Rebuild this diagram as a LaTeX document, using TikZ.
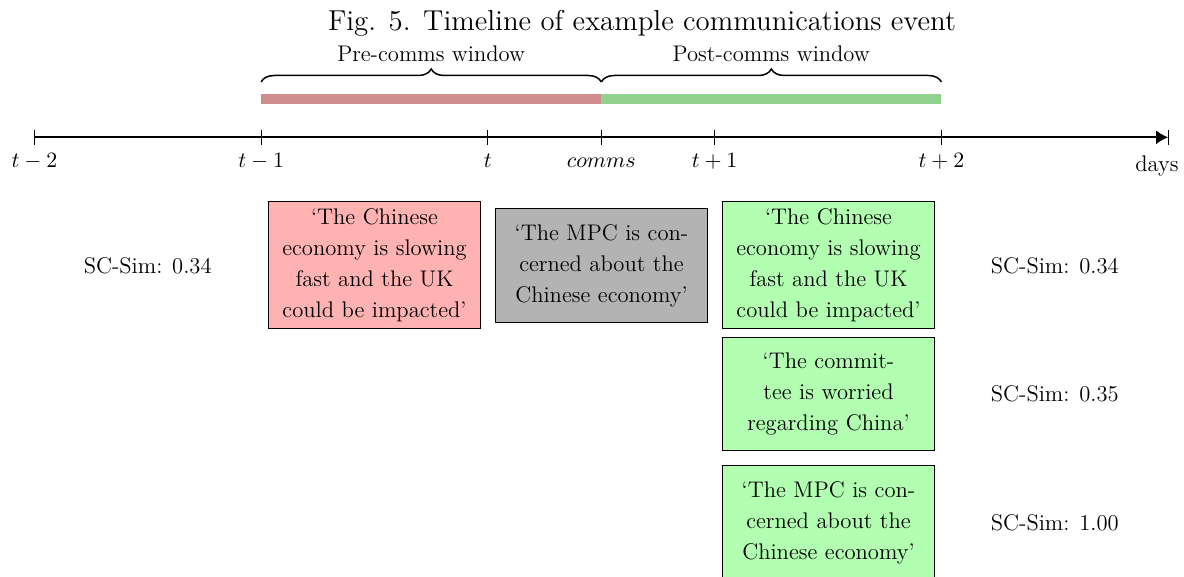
\documentclass[tikz,border=0pt]{standalone}
\usetikzlibrary{decorations.pathreplacing,arrows.meta}
\definecolor{barred}{RGB}{209,141,141}
\definecolor{bargreen}{RGB}{145,210,145}
\definecolor{boxred}{RGB}{255,178,178}
\definecolor{boxgreen}{RGB}{178,255,178}
\definecolor{boxgray}{RGB}{179,179,179}
\begin{document}
\begin{tikzpicture}[x=0.5pt,y=-0.5pt,
  txt/.style={font=\fontsize{11.3}{15.5}\selectfont},
  quotebox/.style={txt,draw=black,line width=0.45pt,text width=99pt,inner sep=3.5pt,
     align=center,minimum height=56.8pt},
  redbox/.style={quotebox,fill=boxred},
  graybox/.style={quotebox,fill=boxgray},
  greenbox/.style={quotebox,fill=boxgreen},
  ticklabel/.style={txt,anchor=base,inner sep=0pt},
  tickmark/.style={line width=0.5pt},
  axisline/.style={line width=0.9pt,-{Latex[length=6pt,width=7pt]}},
  windowbar/.style={line width=5.15pt},
  bracepath/.style={decorate,decoration={brace,amplitude=6.5pt},line width=0.75pt},
  simlabel/.style={txt}]
\useasboundingbox (0,0) rectangle (1184,577);

% title
\node[font=\fontsize{14.4}{17}\selectfont,anchor=base,inner sep=0pt] (title) at (642,30.5)
  {Fig. 5. Timeline of example communications event};

% tick positions
\coordinate (tm2) at (34.4,137.3);
\coordinate (tm1) at (261.15,137.3);
\coordinate (t0)  at (487.9,137.3);
\coordinate (tc)  at (601.3,137.3);
\coordinate (tp1) at (714.65,137.3);
\coordinate (tp2) at (941.4,137.3);
\coordinate (tp3) at (1168.15,137.3);

% axis
\draw[axisline] (tm2) -- (tp3);
\foreach \c in {tm2,tm1,t0,tc,tp1,tp2,tp3}
  \draw[tickmark] ([yshift=3.75pt]\c) -- ([yshift=-3.75pt]\c);

% tick labels
\node[ticklabel] (ltm2) at (34.4,168) {$t-2$};
\node[ticklabel] (ltm1) at (261.15,168) {$t-1$};
\node[ticklabel] (lt0)  at (487.9,168) {$t$};
\node[ticklabel] (ltc)  at (601.3,168) {$comms$};
\node[ticklabel] (ltp1) at (714.65,168) {$t+1$};
\node[ticklabel] (ltp2) at (941.4,168) {$t+2$};
\node[ticklabel] (ldays) at (1157,171.5) {days};

% window bars
\coordinate (bs) at (261.15,99.2);
\coordinate (bm) at (601.3,99.2);
\coordinate (be) at (941.4,99.2);
\draw[windowbar,barred] (bs) -- (bm);
\draw[windowbar,bargreen] (bm) -- (be);

% braces
\coordinate (brs) at (261.15,82);
\coordinate (brm) at (601.3,82);
\coordinate (bre) at (941.4,82);
\draw[bracepath] (brs) -- (brm);
\draw[bracepath] (brm) -- (bre);
\node[ticklabel] (pre) at (431.2,62) {Pre-comms window};
\node[ticklabel] (post) at (771.3,62) {Post-comms window};

% boxes
\node[redbox] (pbox) at (374.5,265)
  {`The Chinese\\economy is slowing\\fast and the UK\\could be impacted'};
\node[graybox] (cbox) at (601.5,265.5)
  {`The MPC is con-\\cerned about the\\Chinese economy'};
\node[greenbox] (g1) at (828.5,265.3)
  {`The Chinese\\economy is slowing\\fast and the UK\\could be impacted'};
\node[greenbox] (g2) at (828.5,394)
  {`The commit-\\tee is worried\\regarding China'};
\node[greenbox] (g3) at (828.5,522.6)
  {`The MPC is con-\\cerned about the\\Chinese economy'};

% similarity labels
\node[simlabel] (s0) at (147.7,265.5) {SC-Sim: 0.34};
\node[simlabel] (s1) at (1054.8,265.5) {SC-Sim: 0.34};
\node[simlabel] (s2) at (1054.8,393.5) {SC-Sim: 0.35};
\node[simlabel] (s3) at (1054.8,522.6) {SC-Sim: 1.00};
\end{tikzpicture}
\end{document}
